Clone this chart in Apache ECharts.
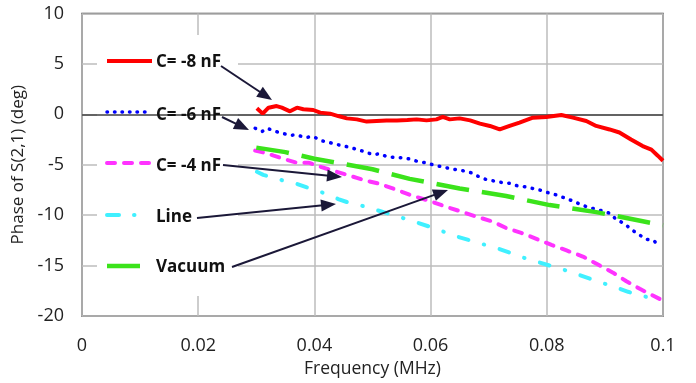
<!DOCTYPE html>
<html>
<head>
<meta charset="utf-8">
<script src="https://cdn.jsdelivr.net/npm/echarts@6/dist/echarts.min.js"></script>
<style>
  html, body { margin: 0; padding: 0; background: #fff; }
  #chart { width: 696px; height: 383px; }
</style>
</head>
<body>
<div id="chart"></div>
<script>
// axis ticks
const xTicks = [0, 0.02, 0.04, 0.06, 0.08, 0.1];
const yTicks = [-20, -15, -10, -5, 0, 5, 10];

// C= -8 nF
const freqC8 = [0.0301, 0.0311, 0.0321, 0.0335, 0.0344, 0.0358, 0.037, 0.0381, 0.0398, 0.041, 0.0427, 0.0441, 0.0456, 0.0473, 0.049, 0.0507, 0.0524, 0.0542, 0.056, 0.0576, 0.0593, 0.061, 0.0621, 0.0633, 0.065, 0.0668, 0.0685, 0.0702, 0.0719, 0.0736, 0.0753, 0.0776, 0.0799, 0.0825, 0.0845, 0.0868, 0.0885, 0.0908, 0.0925, 0.0945, 0.0965, 0.098, 0.0991, 0.1];
const phaseC8 = [0.6, 0.07, 0.66, 0.82, 0.66, 0.3, 0.66, 0.5, 0.43, 0.17, 0.07, -0.17, -0.4, -0.5, -0.72, -0.66, -0.6, -0.6, -0.55, -0.5, -0.6, -0.5, -0.26, -0.5, -0.4, -0.6, -0.92, -1.15, -1.5, -1.15, -0.82, -0.33, -0.26, -0.07, -0.33, -0.66, -1.15, -1.5, -1.8, -2.5, -3.15, -3.5, -4.1, -4.6];

// C= -6 nF
const freqC6 = [0.0298, 0.031, 0.0319, 0.033, 0.0344, 0.0358, 0.037, 0.0384, 0.0398, 0.0411, 0.0426, 0.0438, 0.045, 0.0461, 0.0476, 0.049, 0.0503, 0.0512, 0.0525, 0.054, 0.0554, 0.0566, 0.0579, 0.0591, 0.0604, 0.0619, 0.0631, 0.0645, 0.0656, 0.067, 0.068, 0.0695, 0.0708, 0.0722, 0.0736, 0.075, 0.0764, 0.0791, 0.0804, 0.0817, 0.0831, 0.0845, 0.0857, 0.087, 0.0884, 0.0897, 0.0908, 0.0921, 0.0933, 0.0945, 0.0958, 0.0971, 0.0984, 0.0995];
const phaseC6 = [-1.38, -1.7, -1.38, -1.64, -1.87, -2.07, -2.05, -2.3, -2.2, -2.6, -2.8, -3.0, -3.1, -3.3, -3.5, -3.8, -4.0, -3.9, -4.2, -4.3, -4.3, -4.46, -4.7, -4.8, -5.0, -5.2, -5.35, -5.5, -5.6, -5.8, -6.1, -6.45, -6.6, -6.75, -6.85, -7.1, -7.2, -7.55, -7.8, -8.0, -8.3, -8.6, -8.9, -9.2, -9.4, -9.6, -9.8, -10.5, -10.8, -11.4, -11.9, -12.4, -12.5, -13.2];

// C= -4 nF
const freqC4 = [0.0298, 0.0317, 0.033, 0.0349, 0.037, 0.039, 0.041, 0.043, 0.0453, 0.0473, 0.049, 0.0513, 0.0542, 0.057, 0.0599, 0.0628, 0.0653, 0.0679, 0.0705, 0.0731, 0.0756, 0.0782, 0.0808, 0.0834, 0.0862, 0.0888, 0.0914, 0.0937, 0.096, 0.098, 0.0994];
const phaseC4 = [-3.6, -3.85, -4.1, -4.46, -4.8, -4.8, -5.2, -5.55, -5.95, -6.3, -6.6, -6.9, -7.5, -8.1, -8.6, -9.2, -9.65, -10.15, -10.6, -11.3, -11.75, -12.35, -12.95, -13.5, -14.1, -14.9, -15.7, -16.55, -17.3, -17.9, -18.3];

// Line
const freqLine = [0.0301, 0.0312, 0.0342, 0.037, 0.0387, 0.0416, 0.0441, 0.0461, 0.0488, 0.0519, 0.0536, 0.0564, 0.0596, 0.061, 0.0638, 0.0668, 0.0685, 0.0713, 0.0745, 0.0759, 0.0788, 0.0816, 0.0834, 0.0864, 0.0894, 0.0911, 0.094, 0.0971, 0.0991];
const phaseLine = [-5.7, -6.0, -6.5, -6.9, -7.25, -7.8, -8.4, -8.8, -9.15, -9.7, -10.0, -10.5, -11.1, -11.35, -12.0, -12.5, -12.8, -13.25, -13.9, -14.2, -14.7, -15.2, -15.5, -16.1, -16.7, -17.0, -17.6, -18.1, -18.4];

// Vacuum
const freqVac = [0.03, 0.035, 0.04, 0.05, 0.0564, 0.065, 0.073, 0.0805, 0.0885, 0.0965, 0.1];
const phaseVac = [-3.3, -3.75, -4.4, -5.45, -6.4, -7.35, -8.1, -9.0, -9.7, -10.6, -11.0];

const seriesNames = ['C= -8 nF', 'C= -6 nF', 'C= -4 nF', 'Line', 'Vacuum'];

const pairs = (xs, ys) => xs.map((x, i) => [x, ys[i]]);

const FONT = '"Open Sans", "Noto Sans", sans-serif';
const ARROW = '#1b1838';

// callout legend: sample line + label + arrow to the curve
const legendGraphics = () => {
  const els = [];
  els.push({ type: 'rect', z: 1, shape: { x: 97, y: 35, width: 141, height: 261 }, style: { fill: '#fff' } });
  const samples = [
    { y: 61, stroke: '#ff0000', lineWidth: 4, dash: null, cap: 'butt', x2: 152 },
    { y: 112, stroke: '#0000ff', lineWidth: 3.5, dash: [0.5, 7], cap: 'round', x2: 152 },
    { y: 163, stroke: '#ff33ff', lineWidth: 4, dash: [8, 9], cap: 'round', x2: 152 },
    { y: 215, stroke: '#40f0ff', lineWidth: 4, dash: [12, 15, 0.5, 40], cap: 'round', x2: 140 },
    { y: 266, stroke: '#3be31b', lineWidth: 4.5, dash: null, cap: 'butt', x2: 140 }
  ];
  const labelY = [62, 115, 166, 217, 267];
  samples.forEach((s, i) => {
    els.push({
      type: 'line', z: 5,
      shape: { x1: 107, y1: s.y, x2: s.x2, y2: s.y },
      style: { stroke: s.stroke, lineWidth: s.lineWidth, lineDash: s.dash, lineCap: s.cap }
    });
    els.push({
      type: 'text', z: 5, x: 156, y: labelY[i],
      style: { text: seriesNames[i], font: 'bold 17px ' + FONT, fill: '#111', verticalAlign: 'middle' }
    });
  });
  const arrows = [
    [221, 66, 272, 100],
    [222, 117, 249, 130],
    [223, 165, 342, 177],
    [197, 218, 336, 204],
    [232, 267, 448, 190]
  ];
  arrows.forEach(([x1, y1, x2, y2]) => {
    const len = Math.hypot(x2 - x1, y2 - y1);
    const ux = (x2 - x1) / len, uy = (y2 - y1) / len;
    const hl = 15, hw = 6;
    const bx = x2 - ux * hl, by = y2 - uy * hl;
    els.push({
      type: 'line', z: 10,
      shape: { x1, y1, x2: bx + ux * 2, y2: by + uy * 2 },
      style: { stroke: ARROW, lineWidth: 2 }
    });
    els.push({
      type: 'polygon', z: 10,
      shape: { points: [[x2, y2], [bx - uy * hw, by + ux * hw], [bx + uy * hw, by - ux * hw]] },
      style: { fill: ARROW }
    });
  });
  return els;
};

const chart = echarts.init(document.getElementById('chart'));
chart.setOption({
  animation: false,
  grid: {
    left: 82, right: 33, top: 13.5, bottom: 65,
    show: true, borderColor: '#404040', borderWidth: 1.5, backgroundColor: 'transparent'
  },
  xAxis: {
    type: 'value',
    min: xTicks[0], max: xTicks[xTicks.length - 1], interval: 0.02,
    name: 'Frequency (MHz)', nameLocation: 'middle', nameGap: 44,
    nameTextStyle: { fontFamily: FONT, fontSize: 17.5, color: '#222' },
    axisLine: { show: false }, axisTick: { show: false },
    axisLabel: { fontFamily: FONT, fontSize: 18, color: '#222', margin: 21,
      formatter: v => String(+v.toFixed(2)) },
    splitLine: { show: true, lineStyle: { color: '#bdbdbd', width: 1.5 } }
  },
  yAxis: {
    type: 'value',
    min: yTicks[0], max: yTicks[yTicks.length - 1], interval: 5,
    name: 'Phase of S(2,1) (deg)', nameLocation: 'middle', nameGap: 49,
    nameTextStyle: { fontFamily: FONT, fontSize: 17, color: '#222' },
    axisLine: { show: false }, axisTick: { show: false },
    axisLabel: { fontFamily: FONT, fontSize: 18, color: '#222', margin: 18 },
    splitLine: { show: true, lineStyle: { color: '#bdbdbd', width: 1.5 } }
  },
  graphic: legendGraphics(),
  series: [
    {
      name: seriesNames[0], type: 'line', showSymbol: false, z: 4,
      data: pairs(freqC8, phaseC8),
      lineStyle: { color: '#ff0000', width: 4 },
      markLine: {
        silent: true, symbol: 'none', label: { show: false }, z: 3,
        lineStyle: { color: '#404040', width: 1.5, type: 'solid' },
        data: [{ yAxis: 0 }]
      }
    },
    {
      name: seriesNames[1], type: 'line', showSymbol: false, z: 4,
      data: pairs(freqC6, phaseC6),
      lineStyle: { color: '#0000ff', width: 3.5, type: [0.5, 7.5], cap: 'round' }
    },
    {
      name: seriesNames[2], type: 'line', showSymbol: false, z: 4,
      data: pairs(freqC4, phaseC4),
      lineStyle: { color: '#ff33ff', width: 4, type: [8, 9], cap: 'round' }
    },
    {
      name: seriesNames[3], type: 'line', showSymbol: false, z: 4,
      data: pairs(freqLine, phaseLine),
      lineStyle: { color: '#40f0ff', width: 4, type: [10, 16, 0.5, 16], cap: 'round' }
    },
    {
      name: seriesNames[4], type: 'line', showSymbol: false, z: 4,
      data: pairs(freqVac, phaseVac),
      lineStyle: { color: '#3be31b', width: 4.5, type: [33, 13] }
    }
  ]
});
</script>
</body>
</html>
